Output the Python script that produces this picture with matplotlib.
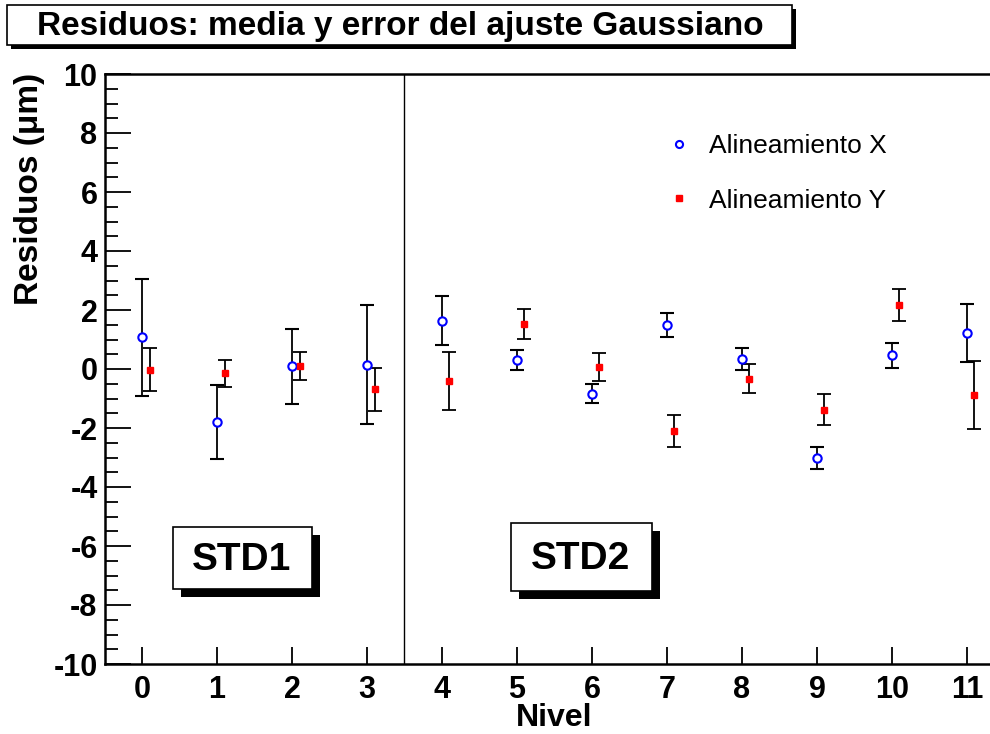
import matplotlib
matplotlib.use("Agg")
import matplotlib.pyplot as plt
from matplotlib.patches import Rectangle
from matplotlib.ticker import MultipleLocator

plt.rcParams["font.family"] = ["Liberation Sans", "DejaVu Sans"]
plt.rcParams["axes.unicode_minus"] = False

# ── data ─────────────────────────────────────────────────────────────────────
nivel = [0, 1, 2, 3, 4, 5, 6, 7, 8, 9, 10, 11]
res_x = [1.07, -1.80, 0.10, 0.15, 1.64, 0.31, -0.84, 1.49, 0.34, -3.01, 0.46, 1.22]
err_x = [1.98, 1.25, 1.27, 2.01, 0.82, 0.33, 0.32, 0.40, 0.36, 0.38, 0.41, 0.99]
res_y = [-0.03, -0.14, 0.11, -0.69, -0.40, 1.53, 0.07, -2.10, -0.33, -1.38, 2.18, -0.88]
err_y = [0.73, 0.46, 0.47, 0.74, 0.98, 0.50, 0.47, 0.54, 0.50, 0.53, 0.54, 1.15]
y_shift = 0.1          # Y points are drawn slightly to the right of X points
std_boundary = 3.5

W, H = 990, 734


def fx(px):
    return px / W


def fy(py):
    return 1 - py / H


def shadow_box(fig, x0, y0, x1, y1, off):
    """ROOT-style pave: white box with a black drop shadow (pixel coords)."""
    fig.patches.append(Rectangle((fx(x0 + off), fy(y1 + off)), fx(x1 - x0), (y1 - y0) / H,
                                 transform=fig.transFigure, facecolor="black",
                                 edgecolor="none", zorder=5))
    fig.patches.append(Rectangle((fx(x0), fy(y1)), fx(x1 - x0), (y1 - y0) / H,
                                 transform=fig.transFigure, facecolor="white",
                                 edgecolor="black", lw=1.2, zorder=6))


fig = plt.figure(figsize=(W / 100, H / 100), dpi=100)
ax = fig.add_axes([fx(104.5), fy(664), fx(1004.5 - 104.5), (664 - 74) / H])

xs_y = [n + y_shift for n in nivel]
eb_x = ax.errorbar(nivel, res_x, yerr=err_x, fmt="o", ms=6, mfc="white", mec="blue",
                   mew=1.5, ecolor="black", elinewidth=1.3, capsize=5, capthick=1.3,
                   zorder=3)
eb_y = ax.errorbar(xs_y, res_y, yerr=err_y, fmt="s", ms=5, mfc="red", mec="red",
                   ecolor="black", elinewidth=1.3, capsize=5, capthick=1.3,
                   zorder=3)
ax.axvline(std_boundary, color="black", lw=1.0)

ax.set_xlim(-0.5, 11.5)
ax.set_ylim(-10, 10)
ax.set_xticks(nivel)
ax.yaxis.set_major_locator(MultipleLocator(2))
ax.yaxis.set_minor_locator(MultipleLocator(0.5))
ax.tick_params(axis="x", direction="in", length=12, width=1.3, labelsize=22, pad=8)
ax.tick_params(axis="y", which="major", direction="in", length=19, width=1.3,
               labelsize=22, pad=5)
ax.tick_params(axis="y", which="minor", direction="in", length=9, width=1.3)
for lab in ax.get_xticklabels() + ax.get_yticklabels():
    lab.set_fontweight("bold")
for side in ["left", "bottom", "top"]:
    ax.spines[side].set_linewidth(1.8)
ax.spines["right"].set_visible(False)

fig.text(fx(554.5), fy(718), "Nivel", ha="center", va="center",
         fontsize=23, fontweight="bold")
fig.text(fx(30), fy(189), "Residuos (μm)", ha="center", va="center",
         rotation=90, fontsize=24, fontweight="bold")

# legend: markers only, no frame
ax.legend([eb_x[0], eb_y[0]], ["Alineamiento X", "Alineamiento Y"],
          loc="upper left", bbox_to_anchor=((650 - 104.5) / 900, (664 - 121) / 590),
          frameon=False, fontsize=19, handletextpad=0.55, labelspacing=1.15,
          handlelength=1.2, borderpad=0, markerscale=0.85)

# title pave
shadow_box(fig, 7, 5, 792, 45, 4)
fig.text(fx(400), fy(26), "Residuos: media y error del ajuste Gaussiano",
         ha="center", va="center", fontsize=24, fontweight="bold", zorder=7)

# STD1 / STD2 paves
shadow_box(fig, 173, 527, 312, 589, 8)
fig.text(fx(242), fy(560), "STD1", ha="center", va="center",
         fontsize=28, fontweight="bold", zorder=7)
shadow_box(fig, 511, 523, 652, 591, 8)
fig.text(fx(581), fy(559), "STD2", ha="center", va="center",
         fontsize=28, fontweight="bold", zorder=7)

fig.savefig("out.png", dpi=100)
